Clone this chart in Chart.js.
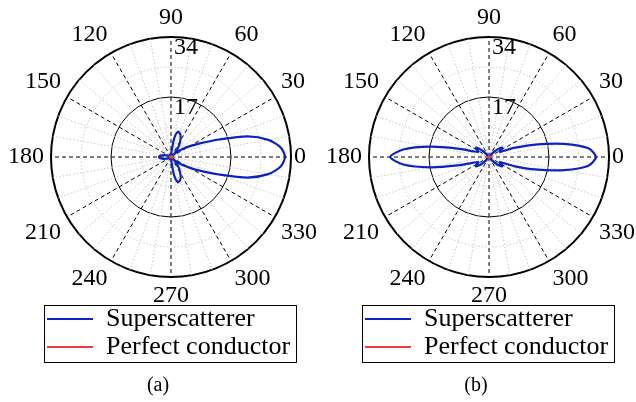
<!DOCTYPE html>
<html>
<head>
<meta charset="utf-8">
<script src="https://cdn.jsdelivr.net/npm/chart.js@4.4.1/dist/chart.umd.min.js"></script>
<style>
html, body { margin: 0; padding: 0; background: #ffffff; overflow: hidden; width: 636px; height: 402px; }
canvas { position: absolute; }
</style>
</head>
<body>
<canvas id="polarA" width="326" height="326" style="left:0px;top:-6px"></canvas>
<canvas id="polarB" width="326" height="326" style="left:318px;top:-6px"></canvas>
<canvas id="legA" width="318" height="202" style="left:0px;top:200px"></canvas>
<canvas id="legB" width="318" height="202" style="left:318px;top:200px"></canvas>
<script>
// ---------------- data ----------------
// angles in degrees, ascending
const angles = [0, 5, 10, 15, 20, 25, 30, 35, 40, 45, 50, 55, 60, 65, 70, 75, 80, 85,
  90, 95, 100, 105, 110, 115, 120, 125, 130, 135, 140, 145, 150, 155, 160, 165, 170, 175,
  180, 185, 190, 195, 200, 205, 210, 215, 220, 225, 230, 235, 240, 245, 250, 255, 260, 265,
  270, 275, 280, 285, 290, 295, 300, 305, 310, 315, 320, 325, 330, 335, 340, 345, 350, 355];

const seriesNames = ['Superscatterer', 'Perfect conductor'];
const panelTitles = ['(a)', '(b)'];
const angleTickLabels = [0, 30, 60, 90, 120, 150, 180, 210, 240, 270, 300, 330];
const radialTickLabels = [17, 34];

// panel (a)
const superA = [32.3, 31.2, 28.0, 22.5, 14.5, 9.3, 6.0, 3.8, 2.2, 1.2, 2.6, 4.0, 5.2, 6.5, 7.2, 7.4, 5.5, 1.5,
  0.5, 0.3, 0.3, 0.3, 0.3, 0.3, 0.3, 0.3, 0.3, 0.3, 0.4, 0.5, 0.6, 0.9, 1.4, 2.0, 2.6, 3.2,
  3.4, 3.2, 2.6, 2.0, 1.4, 0.9, 0.6, 0.5, 0.4, 0.3, 0.3, 0.3, 0.3, 0.3, 0.3, 0.3, 0.3, 0.3,
  0.5, 1.5, 5.5, 7.4, 7.2, 6.5, 5.2, 4.0, 2.6, 1.2, 2.2, 3.8, 6.0, 9.3, 14.5, 22.5, 28.0, 31.2];
const conductorA = [0.3, 0.3, 0.3, 0.25, 0.25, 0.25, 0.25, 0.25, 0.25, 0.25, 0.25, 0.25, 0.25, 0.25, 0.25, 0.25, 0.25, 0.25,
  0.25, 0.25, 0.25, 0.25, 0.25, 0.25, 0.25, 0.25, 0.25, 0.25, 0.25, 0.25, 0.25, 0.25, 0.25, 0.25, 0.3, 0.3,
  0.3, 0.3, 0.3, 0.25, 0.25, 0.25, 0.25, 0.25, 0.25, 0.25, 0.25, 0.25, 0.25, 0.25, 0.25, 0.25, 0.25, 0.25,
  0.25, 0.25, 0.25, 0.25, 0.25, 0.25, 0.25, 0.25, 0.25, 0.25, 0.25, 0.25, 0.25, 0.25, 0.25, 0.25, 0.3, 0.3];

// panel (b)
const superB = [30.3, 28.3, 21.5, 13.6, 7.5, 3.4, 3.6, 4.6, 3.8, 2.2, 1.0, 0.5, 0.3, 0.3, 0.3, 0.3, 0.3, 0.3,
  0.3, 0.3, 0.3, 0.3, 0.3, 0.3, 0.3, 0.5, 1.0, 2.2, 3.8, 4.6, 3.6, 3.4, 4.6, 9.2, 16.8, 24.4,
  28.0, 24.4, 16.8, 9.2, 4.6, 3.4, 3.6, 4.6, 3.8, 2.2, 1.0, 0.5, 0.3, 0.3, 0.3, 0.3, 0.3, 0.3,
  0.3, 0.3, 0.3, 0.3, 0.3, 0.3, 0.3, 0.5, 1.0, 2.2, 3.8, 4.6, 3.6, 3.4, 7.5, 13.6, 21.5, 28.3];
const conductorB = [0.3, 0.3, 0.3, 0.25, 0.25, 0.25, 0.25, 0.25, 0.25, 0.25, 0.25, 0.25, 0.25, 0.25, 0.25, 0.25, 0.25, 0.25,
  0.25, 0.25, 0.25, 0.25, 0.25, 0.25, 0.25, 0.25, 0.25, 0.25, 0.25, 0.25, 0.25, 0.25, 0.25, 0.25, 0.3, 0.3,
  0.3, 0.3, 0.3, 0.25, 0.25, 0.25, 0.25, 0.25, 0.25, 0.25, 0.25, 0.25, 0.25, 0.25, 0.25, 0.25, 0.25, 0.25,
  0.25, 0.25, 0.25, 0.25, 0.25, 0.25, 0.25, 0.25, 0.25, 0.25, 0.25, 0.25, 0.25, 0.25, 0.25, 0.25, 0.3, 0.3];

// ---------------- styling ----------------
const BLUE = '#0c22c2';
const RED = '#f03c3c';
Chart.defaults.font.family = "'Liberation Serif', 'Times New Roman', serif";
Chart.defaults.color = '#000000';

// radar charts run clockwise from the top: order the angles 90, 85, ... 0, 355, ... 95
const n = angles.length;
const topIndex = angles.indexOf(90);
const order = angles.map((_, k) => ((topIndex - k) % n + n) % n);
const chartLabels = order.map(i => angles[i]);
const reorder = arr => order.map(i => arr[i]);

// point labels are drawn an extra (tick font size + backdrop padding)/2 = 14px out
const LABEL_EXTRA = 14;

function polarConfig(superVals, condVals) {
  return {
    type: 'radar',
    data: {
      labels: chartLabels,
      datasets: [
        { label: seriesNames[0], data: reorder(superVals), borderColor: BLUE, backgroundColor: BLUE,
          borderWidth: 2.2, pointRadius: 0, pointHoverRadius: 0, fill: false, tension: 0.25, order: 1,
          borderJoinStyle: 'round' },
        { label: seriesNames[1], data: reorder(condVals), borderColor: RED, backgroundColor: RED,
          borderWidth: 2, pointRadius: 0, pointHoverRadius: 0, fill: false, tension: 0, order: 0 }
      ]
    },
    options: {
      responsive: false,
      animation: false,
      events: [],
      layout: { padding: 0 },
      plugins: { legend: { display: false }, title: { display: false }, tooltip: { enabled: false } },
      scales: {
        r: {
          min: 0,
          max: 34,
          startAngle: 0,
          ticks: {
            stepSize: 8.5,
            showLabelBackdrop: false,
            color: '#000',
            font: { size: 24, lineHeight: 11 / 24 },
            callback: v => radialTickLabels.includes(v) ? ['', '     ' + v] : ''
          },
          pointLabels: {
            color: '#000',
            font: { size: 24, lineHeight: 1 },
            padding: c => (chartLabels[c.index] === 0 ? 3 : 7) - LABEL_EXTRA,
            callback: lab => angleTickLabels.includes(Number(lab)) ? String(lab) : ''
          },
          grid: {
            circular: true,
            color: c => {
              const v = c.tick ? c.tick.value : 0;
              return (v === 17 || v === 34) ? '#000000' : '#c8c8c8';
            },
            lineWidth: c => (c.tick && c.tick.value === 34) ? 2 : 1
          },
          border: {
            dash: c => (c.tick && (c.tick.value === 8.5 || c.tick.value === 25.5)) ? [1.5, 2] : []
          },
          angleLines: {
            display: true,
            color: c => {
              const d = chartLabels[c.index];
              if (d % 30 === 0) return '#000000';
              if (d % 10 === 0) return '#c8c8c8';
              return 'rgba(0,0,0,0)';
            },
            lineWidth: c => (chartLabels[c.index] % 10 === 0) ? 1 : 0,
            borderDash: c => (chartLabels[c.index] % 30 === 0) ? [4, 3] : [1.5, 2]
          }
        }
      }
    }
  };
}

const legendBorder = {
  id: 'legendBorder',
  afterDraw(chart) {
    const lg = chart.legend;
    if (!lg || !lg.legendHitBoxes || !lg.legendHitBoxes.length) return;
    const hb = lg.legendHitBoxes;
    const l = Math.min(...hb.map(h => h.left)) - 3;
    const t = Math.min(...hb.map(h => h.top)) - 1;
    const r = Math.max(...hb.map(h => h.left + h.width)) + 6;
    const b = Math.max(...hb.map(h => h.top + h.height)) + 2;
    const ctx = chart.ctx;
    ctx.save();
    ctx.strokeStyle = '#000';
    ctx.lineWidth = 1;
    ctx.setLineDash([]);
    ctx.strokeRect(Math.round(l) + 0.5, Math.round(t) + 0.5, Math.round(r - l), Math.round(b - t));
    ctx.restore();
  }
};

function legendConfig(title) {
  return {
    type: 'line',
    data: {
      labels: [],
      datasets: [
        { label: seriesNames[0], data: [], borderColor: BLUE, backgroundColor: BLUE, borderWidth: 2,
          pointBorderColor: BLUE, pointBorderWidth: 2 },
        { label: seriesNames[1], data: [], borderColor: RED, backgroundColor: RED, borderWidth: 2,
          pointBorderColor: RED, pointBorderWidth: 2 }
      ]
    },
    options: {
      responsive: false,
      animation: false,
      events: [],
      layout: { padding: { top: 0, left: 45, right: 0, bottom: 0 } },
      scales: {
        x: { display: false },
        y: {
          display: true,
          position: 'right',
          grid: { display: false, drawTicks: false },
          border: { display: false },
          ticks: { display: false },
          afterFit: s => { s.width = 47; }
        }
      },
      plugins: {
        tooltip: { enabled: false },
        legend: {
          position: 'bottom',
          align: 'start',
          labels: {
            usePointStyle: true,
            pointStyle: 'line',
            pointStyleWidth: 46,
            padding: 2,
            color: '#000',
            font: { size: 26 }
          }
        },
        title: {
          display: true,
          text: title,
          position: 'bottom',
          fullSize: false,
          color: '#000',
          font: { size: 20, weight: 'normal', lineHeight: 1.2 },
          padding: { top: 4, bottom: 4 }
        }
      }
    },
    plugins: [legendBorder]
  };
}

new Chart(document.getElementById('polarA'), polarConfig(superA, conductorA));
new Chart(document.getElementById('polarB'), polarConfig(superB, conductorB));
new Chart(document.getElementById('legA'), legendConfig(panelTitles[0]));
new Chart(document.getElementById('legB'), legendConfig(panelTitles[1]));
</script>
</body>
</html>
